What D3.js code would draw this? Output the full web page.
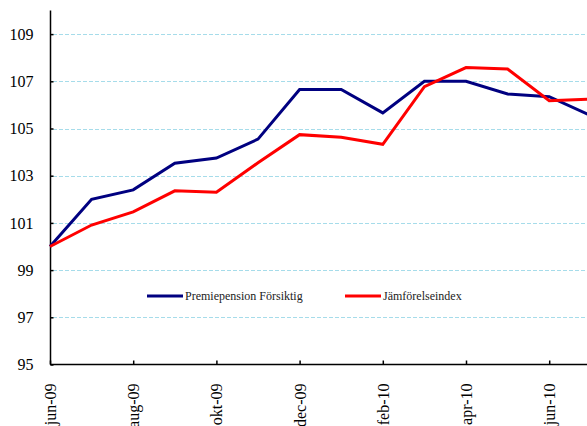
<!DOCTYPE html>
<html><head><meta charset="utf-8">
<script src="https://cdn.jsdelivr.net/npm/d3@7"></script>
<style>body{margin:0;background:#fff}svg{display:block}
svg text{font-family:'Liberation Serif','Times New Roman','DejaVu Serif',serif !important;}</style>
</head><body><div id="chart"></div>
<script>
const months = ["jun-09","jul-09","aug-09","sep-09","okt-09","nov-09","dec-09","jan-10","feb-10","mar-10","apr-10","maj-10","jun-10","jul-10"];
const tickLabels = ["jun-09","aug-09","okt-09","dec-09","feb-10","apr-10","jun-10"];
const premiepension = [100, 102.0, 102.4, 103.53, 103.75, 104.55, 106.65, 106.65, 105.66, 107.0, 107.0, 106.46, 106.35, 105.55];
const jamforelse = [100, 100.91, 101.47, 102.36, 102.3, 103.55, 104.74, 104.63, 104.33, 106.77, 107.58, 107.52, 106.18, 106.25];
const yTicks = [95, 97, 99, 101, 103, 105, 107, 109];
const seriesNames = ["Premiepension Försiktig", "Jämförelseindex"];
const colors = ["#000080", "#ff0000"];

const W = 587, H = 426;
const svg = d3.select("#chart").append("svg").attr("width", W).attr("height", H);
const x = d3.scalePoint().domain(months).range([50, 50 + 41.6 * 13]);
const y = d3.scaleLinear().domain([95, 110]).range([364.5, 10.5]);

// grid
svg.append("g").selectAll("line").data(yTicks.filter(d => d > 95)).join("line")
  .attr("x1", 53).attr("x2", W + 10)
  .attr("y1", d => Math.round(y(d)) + 0.5).attr("y2", d => Math.round(y(d)) + 0.5)
  .attr("stroke", "#a6dcea").attr("stroke-width", 1).attr("stroke-dasharray", "4,2");

// y axis
const yAxis = svg.append("g").attr("transform", "translate(50.5,0)")
  .call(d3.axisLeft(y).tickValues(yTicks).tickSize(-3).tickPadding(17).tickFormat(d3.format("d")));
yAxis.attr("font-family", null);
yAxis.select(".domain").attr("d", `M0,${y(110)}V${y(95)}`).attr("stroke", "#000").attr("stroke-width", 1.5);
yAxis.selectAll(".tick line").attr("stroke", "#000").attr("stroke-width", 1.5);
yAxis.selectAll("text").attr("font-size", 16).attr("fill", "#000");

// x axis
const xAxis = svg.append("g").attr("transform", `translate(0,${y(95)})`)
  .call(d3.axisBottom(x).tickValues(tickLabels).tickSize(-4).tickPadding(0));
xAxis.attr("font-family", null);
xAxis.select(".domain").attr("d", `M50,0H${W + 10}`).attr("stroke", "#000").attr("stroke-width", 1.5);
xAxis.selectAll(".tick line").attr("stroke", "#000").attr("stroke-width", 1.5);
xAxis.selectAll("text")
  .attr("font-size", 16).attr("fill", "#000")
  .attr("text-anchor", "end").attr("dy", null).attr("dominant-baseline", "central")
  .attr("transform", "translate(0,19) rotate(-90)").attr("y", 0).attr("x", 0);

// lines
const line = d3.line().x((d, i) => x(months[i])).y(d => y(d));
[premiepension, jamforelse].forEach((s, k) => {
  svg.append("path").datum(s).attr("d", line).attr("fill", "none")
    .attr("stroke", colors[k]).attr("stroke-width", 3).attr("stroke-linejoin", "miter");
});

// legend
const legendX = [147, 345];
seriesNames.forEach((n, k) => {
  const g = svg.append("g").attr("transform", `translate(${legendX[k]},296)`);
  g.append("line").attr("x1", 0).attr("x2", 36).attr("stroke", colors[k]).attr("stroke-width", 3);
  g.append("text").attr("x", 38).attr("y", 0).attr("dy", "0.35em")
    .attr("font-size", 12).attr("fill", "#222").text(n);
});
</script></body></html>
